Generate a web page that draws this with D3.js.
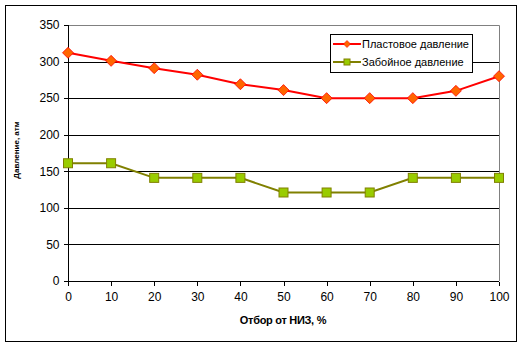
<!DOCTYPE html>
<html><head><meta charset="utf-8">
<script src="https://cdn.jsdelivr.net/npm/d3@7"></script>
<style>body{margin:0;background:#fff}svg{display:block}text{font-family:"Liberation Sans",Arial,sans-serif}</style>
</head><body><svg id="c" width="522" height="345"></svg>
<script>
const categories = [0,10,20,30,40,50,60,70,80,90,100];
const plastovoe = [312,301,291,282,269,261,250,250,250,260,280];
const zaboynoe = [161,161,141,141,141,121,121,121,141,141,141];
const yTicks = [0,50,100,150,200,250,300,350];
const seriesNames = ["Пластовое давление","Забойное давление"];
const xTitle = "Отбор от НИЗ, %";
const yTitle = "Давление, атм";

const svg = d3.select("#c");
svg.append("rect").attr("x",5.5).attr("y",5.5).attr("width",511).attr("height",336)
  .attr("fill","#fff").attr("stroke","#000");

const L=68, R=499, T=25, B=281;
const x = d3.scaleLinear().domain([0,100]).range([L,R]);
const y = d3.scaleLinear().domain([0,350]).range([B,T]);

// grid
svg.append("g").selectAll("line").data(yTicks.filter(d=>d>0 && d<350)).join("line")
  .attr("x1",L).attr("x2",R).attr("y1",d=>Math.round(y(d))+0.5).attr("y2",d=>Math.round(y(d))+0.5)
  .attr("stroke","#000");
// plot border top/right gray
svg.append("path").attr("d",`M${L},${T+0.5}H${R+0.5}V${B}`).attr("fill","none").attr("stroke","#808080");

const yAxis = svg.append("g").attr("transform",`translate(${L+0.5},0)`)
  .call(d3.axisLeft(y).tickValues(yTicks).tickSize(5).tickPadding(4).tickFormat(d3.format("d")));
const xAxis = svg.append("g").attr("transform",`translate(0,${B+0.5})`)
  .call(d3.axisBottom(x).tickValues(categories).tickSize(4).tickPadding(7).tickFormat(d3.format("d")));
[yAxis,xAxis].forEach(a=>{
  a.selectAll("path,line").attr("stroke","#000").attr("shape-rendering","crispEdges");
  a.select(".domain").attr("d", a===yAxis ? `M0,${T}V${B}` : `M${L},0H${R}`);
  a.selectAll("text").attr("font-size",12).attr("fill","#000").attr("font-family","Liberation Sans, Arial, sans-serif");
});

const line = d3.line().x((d,i)=>x(categories[i])).y(d=>y(d));
svg.append("path").datum(plastovoe).attr("d",line).attr("fill","none").attr("stroke","#FF0000").attr("stroke-width",2);
svg.append("path").datum(zaboynoe).attr("d",line).attr("fill","none").attr("stroke","#808000").attr("stroke-width",2);

const diamond = (cx,cy,r)=>`M${cx},${cy-r}L${cx+r},${cy}L${cx},${cy+r}L${cx-r},${cy}Z`;
svg.append("g").selectAll("path").data(plastovoe).join("path")
  .attr("d",(d,i)=>diamond(x(categories[i]),y(d),5.5)).attr("fill","#FF6600").attr("stroke","#FF0000").attr("stroke-width",0.8);
svg.append("g").selectAll("rect").data(zaboynoe).join("rect")
  .attr("x",(d,i)=>x(categories[i])-4.5).attr("y",d=>y(d)-4.5).attr("width",9).attr("height",9)
  .attr("fill","#99CC00").attr("stroke","#808000").attr("stroke-width",1);

// titles
svg.append("text").attr("x",283).attr("y",324).attr("text-anchor","middle").attr("font-size",11)
  .attr("font-weight","bold").attr("letter-spacing",-0.3).text(xTitle);
svg.append("text").attr("transform","translate(19,150) rotate(-90)").attr("text-anchor","middle")
  .attr("font-size",8).attr("font-weight","bold").attr("fill","#000").text(yTitle);

// legend
const lg = svg.append("g");
lg.append("rect").attr("x",330.5).attr("y",34.5).attr("width",142).attr("height",38).attr("fill","#fff").attr("stroke","#000");
const ly = [44,62];
seriesNames.forEach((n,i)=>{
  lg.append("line").attr("x1",333).attr("x2",361).attr("y1",ly[i]).attr("y2",ly[i])
    .attr("stroke",i?"#808000":"#FF0000").attr("stroke-width",2);
  if(i===0) lg.append("path").attr("d",diamond(347,ly[i],3.5)).attr("fill","#FF6600").attr("stroke","#FF0000").attr("stroke-width",0.6);
  else lg.append("rect").attr("x",344).attr("y",ly[i]-3).attr("width",6).attr("height",6).attr("fill","#99CC00").attr("stroke","#808000");
  lg.append("text").attr("x",362).attr("y",ly[i]+4).attr("font-size",11).attr("fill","#000").text(n);
});
</script></body></html>
